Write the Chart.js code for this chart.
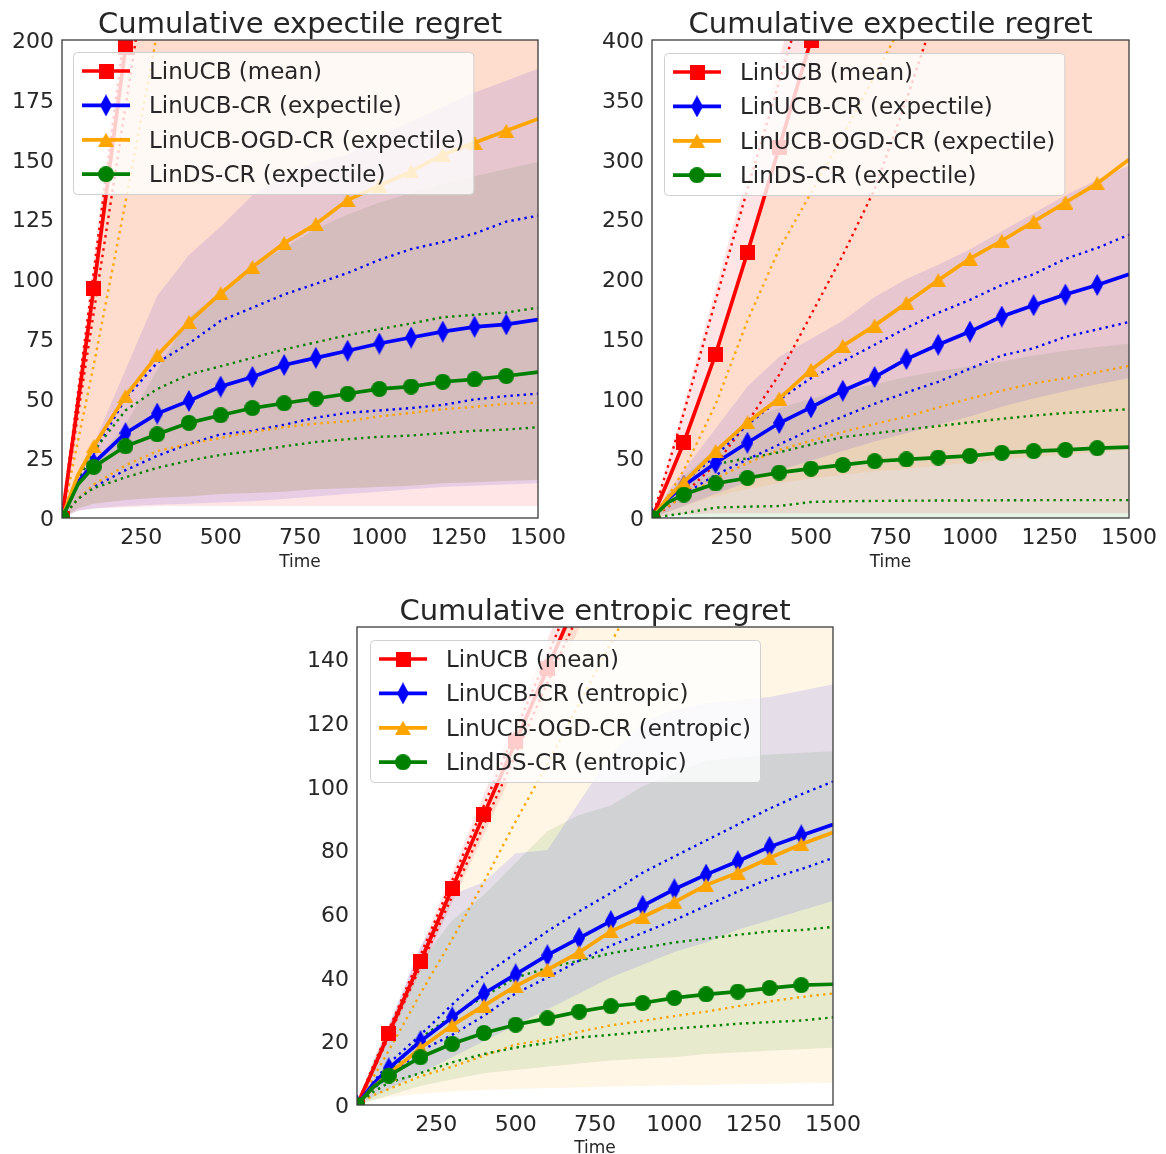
<!DOCTYPE html>
<html>
<head>
<meta charset="utf-8">
<script src="https://cdn.jsdelivr.net/npm/chart.js@4"></script>
<style>
  html, body { margin: 0; padding: 0; background: #fff; }
  body { width: 1166px; height: 1154px; position: relative; overflow: hidden; }
  canvas { position: absolute; }
</style>
</head>
<body>
<canvas id="c1" width="580" height="580" style="left:0;top:0"></canvas>
<canvas id="c2" width="586" height="580" style="left:580px;top:0"></canvas>
<canvas id="c3" width="580" height="574" style="left:290px;top:580px"></canvas>
<script>
const T = [0, 50, 100, 200, 300, 400, 500, 600, 700, 800, 900, 1000, 1100, 1200, 1300, 1400, 1500];
const xTicks = [250, 500, 750, 1000, 1250, 1500];

// ---- top left: expectile regret (0..200)
const y1Ticks = [0, 25, 50, 75, 100, 125, 150, 175, 200];
const e1RedMean = [0, 48, 96, 197, 295, 393, 490, 588, 685, 783, 880, 978, 1075, 1173, 1270, 1368, 1465];
const e1RedHi = [0, 52, 103, 206, 309, 412, 515, 618, 721, 824, 927, 1030, 1133, 1236, 1339, 1442, 1545];
const e1RedLo = [0, 43, 86, 172, 258, 344, 430, 516, 602, 688, 774, 860, 946, 1032, 1118, 1204, 1290];
const e1RedBandHi = [0, 55, 108, 216, 322, 430, 536, 643, 750, 856, 962, 1070, 1176, 1283, 1390, 1496, 1602];
const e1RedBandLo = [0, 3, 4, 4.5, 5, 5, 5, 5, 5, 5, 5, 5, 5, 5, 5, 5, 5];
const e1BlMean = [0, 15, 23, 35.5, 43.7, 49, 55, 59, 64, 67, 70, 73, 75.5, 78, 80, 81, 83];
const e1BlHi = [0, 16, 27, 50, 65, 73, 82.5, 88, 93.5, 98, 102.5, 108, 112.5, 115.5, 119, 124, 126.5];
const e1BlLo = [0, 8, 13, 20, 26, 31, 35, 36.5, 39, 42, 44, 45, 46, 47.3, 49.6, 51, 52];
const e1BlBandHi = [0, 18, 31, 62, 93, 110, 122, 135, 143, 149, 152, 160, 166, 172, 178, 183, 188];
const e1BlBandLo = [0, 3, 4, 5, 5.5, 6, 6.5, 7, 8, 9, 10, 11, 12, 13, 13.5, 14, 14.5];
const e1OrMean = [0, 18, 30, 51, 68, 82, 94, 105, 115, 123, 133, 139, 145, 152, 157, 162, 167];
const e1OrHi = [0, 32, 64, 132, 203, 272, 340, 405, 470, 535, 600, 665, 730, 795, 860, 925, 990];
const e1OrLo = [0, 8, 14, 22, 28, 31, 33.5, 36, 38, 39.5, 40.5, 42.5, 44, 45.5, 46.5, 47.8, 48.2];
const e1OrBandHi = [0, 47, 95, 195, 292, 390, 487, 585, 682, 780, 877, 975, 1072, 1170, 1267, 1365, 1462];
const e1OrBandLo = [0, 4, 6, 7.5, 8.5, 9, 10, 10.5, 11, 12, 12.5, 13, 13.5, 14.5, 15, 15.5, 16];
const e1GrMean = [0, 14, 21.4, 30, 35, 39.8, 43, 46, 48, 50, 52, 54, 55, 57, 58, 59.4, 61];
const e1GrHi = [0, 16, 28, 45, 54, 60, 63.5, 67, 70.5, 73.5, 76.5, 79, 81.4, 84, 85, 86, 88];
const e1GrLo = [0, 8, 12.5, 17, 21, 24, 26.4, 28, 30, 31.8, 33, 34, 34.5, 35.5, 36.5, 37, 38];
const e1GrBandHi = [0, 14, 23, 39, 62, 84, 95, 105, 113, 121, 127, 132, 136, 140, 143, 146, 149];
const e1GrBandLo = [0, 4, 6, 7.5, 8.5, 9, 10, 10.5, 11, 12, 12.5, 13, 13.5, 14.5, 15, 15.5, 16];

// ---- top right: expectile regret (0..400)
const y2Ticks = [0, 50, 100, 150, 200, 250, 300, 350, 400];
const e2RedMean = [0, 31, 63, 137, 222, 310, 400, 490, 580, 670, 760, 850, 940, 1030, 1120, 1210, 1300];
const e2RedHi = [0, 43, 88, 182, 275, 365, 455, 545, 635, 725, 815, 905, 995, 1085, 1175, 1265, 1355];
const e2RedLo = [0, 9, 20, 45, 80, 120, 170, 220, 275, 350, 430, 510, 590, 670, 750, 830, 910];
const e2RedBandHi = [0, 47, 95, 192, 288, 385, 480, 575, 670, 765, 860, 955, 1050, 1145, 1240, 1335, 1430];
const e2RedBandLo = [0, 2, 3, 4, 4, 4, 4, 4, 4, 4, 4, 4, 4, 4, 4, 4, 4];
const e2BlMean = [0, 16, 27, 46, 63, 79.5, 92.5, 106.5, 118, 133, 145, 156, 168.6, 178, 187, 195, 204];
const e2BlHi = [0, 17, 30, 52, 78, 99, 117, 131, 145, 159, 171.7, 182.6, 195, 204, 216.8, 226, 237];
const e2BlLo = [0, 11, 20, 36, 49, 61.5, 74, 84.8, 95.6, 105, 114, 125, 136, 142, 151.6, 157.8, 164];
const e2BlBandHi = [0, 22, 40, 75, 110, 135, 150, 165, 185, 200, 212, 225, 240, 255, 270, 283, 295];
const e2BlBandLo = [0, 5, 10, 20, 30, 40, 48, 56, 64, 71, 78, 85, 93, 100, 106, 112, 117];
const e2OrMean = [0, 17, 30, 56, 80, 100, 124, 144, 161, 180, 199, 217, 232, 248, 264, 280, 300];
const e2OrHi = [0, 18, 40, 95, 165, 225, 272, 320, 370, 420, 470, 520, 570, 620, 670, 720, 770];
const e2OrLo = [0, 10, 18, 33, 46, 57, 64.6, 72, 78.6, 84.8, 92.5, 100, 106.5, 112.7, 117, 122, 127.3];
const e2OrBandHi = [0, 32, 65, 140, 226, 315, 405, 495, 585, 675, 765, 855, 945, 1035, 1125, 1215, 1305];
const e2OrBandLo = [0, 5, 10, 18, 24, 29, 33, 36, 39, 41, 44, 46, 49, 51, 53, 55, 57];
const e2GrMean = [0, 13, 19.6, 28.9, 33.5, 38, 41.3, 44.4, 47.5, 49, 50.6, 52, 54.6, 56, 57, 58.4, 59.3];
const e2GrHi = [0, 16, 28, 45, 50, 55, 61.5, 67.7, 70.8, 74, 77, 80, 83, 85.7, 87.9, 89.4, 91];
const e2GrLo = [0, 2, 4, 8.7, 9.5, 10, 13.4, 14, 14.3, 14.5, 14.6, 14.7, 14.8, 14.9, 15, 15, 15];
const e2GrBandHi = [0, 20, 35, 58, 82, 92, 100, 106, 112, 118, 123, 127, 131, 136, 140, 143, 146];
const e2GrBandLo = [0, 0, 0, 0, 0, 0, 0, 0, 0, 0, 0, 0, 0, 0, 0, 0, 0];

// ---- bottom: entropic regret (0..150)
const y3Ticks = [0, 20, 40, 60, 80, 100, 120, 140];
const enRedMean = [0, 11, 22.4, 45, 68, 91.2, 114, 137, 160, 183, 206, 229, 252, 275, 298, 321, 344];
const enRedHi = [0, 12, 23.5, 47, 70.5, 94, 117.5, 141, 164.5, 188, 211.5, 235, 258.5, 282, 305.5, 329, 352.5];
const enRedLo = [0, 10.5, 21.5, 43.5, 65.5, 88, 110, 132.5, 154.5, 176.5, 199, 221, 243, 265.5, 287.5, 309.5, 332];
const enRedBandHi = [0, 12.5, 24.5, 49, 73, 97.5, 121.5, 146, 170, 194.5, 218.5, 243, 267, 291.5, 315.5, 340, 364];
const enRedBandLo = [0, 10, 20.5, 42, 63.5, 85, 106.5, 128, 149.5, 171, 192.5, 214, 235.5, 257, 278.5, 300, 321.5];
const enBlMean = [0, 6.5, 11.5, 20, 27.5, 35, 41, 47, 52.4, 57.7, 62.5, 67.7, 72.3, 76.5, 81, 84.6, 88];
const enBlHi = [0, 7, 13, 22, 31.5, 40.7, 47.6, 54.5, 60.8, 66.5, 72.9, 78, 83, 88, 93, 97.5, 101.5];
const enBlLo = [0, 5, 9, 17, 22, 28, 35, 40, 45.3, 50, 54, 58, 62.5, 67, 71, 74, 77.5];
const enBlBandHi = [0, 13, 25, 50, 66, 70, 79, 80, 95, 110, 120, 124, 126, 127, 128, 130, 132];
const enBlBandLo = [0, 2.5, 5, 10, 15, 20, 25, 30, 35, 40, 44, 48, 51, 55, 58, 61, 64];
const enOrMean = [0, 5.5, 9.75, 17.8, 25, 31.2, 37.3, 42.5, 47.9, 54.5, 59, 63.7, 69, 72.9, 77.5, 81.8, 85.5];
const enOrHi = [0, 8.5, 17, 35, 52, 70, 89, 107, 126, 145, 163, 182, 200, 219, 238, 256, 275];
const enOrLo = [0, 3, 5, 9, 12, 15.5, 19, 20.5, 23, 25, 26.4, 27.9, 29.3, 31, 32.5, 33.9, 35];
const enOrBandHi = [0, 11.5, 23, 46, 69, 92.5, 115.5, 138.5, 161.5, 185, 208, 231, 254, 277, 300, 323, 346];
const enOrBandLo = [0, 1.5, 2.5, 3.5, 4.2, 4.7, 5, 5.3, 5.5, 5.8, 6, 6.2, 6.3, 6.5, 6.7, 6.8, 7];
const enGrMean = [0, 5.5, 9.2, 15, 19.2, 22.6, 25.2, 27.2, 29.3, 31, 32, 33.6, 34.7, 35.6, 36.7, 37.6, 37.9];
const enGrHi = [0, 5.5, 10, 21, 28, 34, 40, 43, 45.3, 47.6, 49.3, 51, 52.2, 53.4, 54.5, 54.9, 55.9];
const enGrLo = [0, 4, 7, 10, 13.4, 16, 18, 19.5, 21.2, 22, 23, 24, 24.7, 25.5, 26, 26.5, 27.5];
const enGrBandHi = [0, 14, 25, 45, 58, 66, 76, 86, 91, 94, 100, 104, 108, 109, 110, 110.5, 111];
const enGrBandLo = [0, 1.5, 3, 6, 8, 10, 11, 12, 13, 14, 14.5, 15, 16, 16.5, 17, 17.5, 18];

const expectileLabels = ["LinUCB (mean)", "LinUCB-CR (expectile)", "LinUCB-OGD-CR (expectile)", "LinDS-CR (expectile)"];
const entropicLabels = ["LinUCB (mean)", "LinUCB-CR (entropic)", "LinUCB-OGD-CR (entropic)", "LindDS-CR (entropic)"];

const FONT = '"DejaVu Sans", sans-serif';
const TEXT = '#262626';
const RGB = { red: [255, 0, 0], blue: [0, 0, 255], orange: [255, 165, 0], green: [0, 128, 0] };

// marker images (matplotlib s, d, ^, o)
function marker(kind, rgb) {
  const size = { square: [15, 15], diamond: [12, 22], triangle: [16, 14], circle: [16, 16] }[kind];
  const c = document.createElement('canvas');
  c.width = size[0]; c.height = size[1];
  const g = c.getContext('2d');
  const w = size[0], h = size[1];
  g.fillStyle = `rgb(${rgb})`;
  g.beginPath();
  if (kind === 'square') g.rect(0, 0, w, h);
  else if (kind === 'diamond') { g.moveTo(w / 2, 0); g.lineTo(w, h / 2); g.lineTo(w / 2, h); g.lineTo(0, h / 2); g.closePath(); }
  else if (kind === 'triangle') { g.moveTo(w / 2, 0); g.lineTo(w, h); g.lineTo(0, h); g.closePath(); }
  else g.arc(w / 2, h / 2, w / 2, 0, Math.PI * 2);
  g.fill();
  return c;
}

const pts = arr => T.map((t, i) => ({ x: t, y: arr[i] }));
const showMark = ctx => (T[ctx.dataIndex] % 100 === 0 && T[ctx.dataIndex] < 1500) ? 7 : 0;

// legend box, frame and title drawn on top of the data like matplotlib
const decor = {
  id: 'decor',
  afterDatasetsDraw(chart, args, o) {
    const { ctx, chartArea: a } = chart;
    ctx.save();
    ctx.font = '23px ' + FONT;
    const tw = Math.max(...o.labels.map(l => ctx.measureText(l).width));
    const bx = a.left + o.dx, by = a.top + o.dy;
    const bw = 76 + tw + 9, bh = 142;
    ctx.beginPath();
    ctx.roundRect(bx + 0.5, by + 0.5, bw, bh, 4);
    ctx.fillStyle = 'rgba(255,255,255,0.8)';
    ctx.fill();
    ctx.strokeStyle = '#d0d0d0';
    ctx.lineWidth = 1;
    ctx.stroke();
    o.series.forEach((s, i) => {
      const cy = by + 19 + i * 34.4;
      ctx.strokeStyle = `rgb(${s.rgb})`;
      ctx.lineWidth = 3.7;
      ctx.beginPath();
      ctx.moveTo(bx + 9, cy); ctx.lineTo(bx + 57, cy);
      ctx.stroke();
      const m = s.img;
      ctx.drawImage(m, bx + 33 - m.width / 2, cy - m.height / 2);
      ctx.fillStyle = TEXT;
      ctx.textBaseline = 'middle';
      ctx.fillText(o.labels[i], bx + 76, cy + 2);
    });
    ctx.strokeStyle = '#3c3c3c';
    ctx.lineWidth = 1.3;
    ctx.strokeRect(a.left, a.top, a.right - a.left, a.bottom - a.top);
    ctx.restore();
  },
  afterDraw(chart, args, o) {
    const { ctx, chartArea: a } = chart;
    ctx.save();
    ctx.font = '29px ' + FONT;
    ctx.fillStyle = TEXT;
    ctx.textAlign = 'center';
    ctx.textBaseline = 'alphabetic';
    ctx.fillText(o.title, (a.left + a.right) / 2, a.top - 7);
    ctx.restore();
  }
};

function build(id, c) {
  const series = [
    { rgb: RGB.red, img: marker('square', RGB.red), d: c.red },
    { rgb: RGB.blue, img: marker('diamond', RGB.blue), d: c.blue },
    { rgb: RGB.orange, img: marker('triangle', RGB.orange), d: c.orange },
    { rgb: RGB.green, img: marker('circle', RGB.green), d: c.green }
  ];
  const datasets = [];
  series.forEach((s, k) => {
    const [mean, hi, lo, bHi, bLo] = s.d;
    datasets.push({ data: pts(bLo), borderWidth: 0, pointRadius: 0, fill: false, order: 40 + k, clip: 0 });
    datasets.push({ data: pts(bHi), borderWidth: 0, pointRadius: 0, fill: '-1',
      backgroundColor: `rgba(${s.rgb},0.1)`, order: 40 + k, clip: 0 });
    [hi, lo].forEach(arr => datasets.push({
      data: pts(arr), borderColor: `rgb(${s.rgb})`, borderWidth: 2.4, borderDash: [2.4, 4.2],
      pointRadius: 0, fill: false, order: 30 - k, clip: 0
    }));
    datasets.push({
      data: pts(mean), borderColor: `rgb(${s.rgb})`, borderWidth: 3.7, fill: false,
      pointStyle: s.img, pointRadius: showMark, order: 20 - k, clip: 0
    });
  });

  new Chart(document.getElementById(id), {
    type: 'line',
    data: { datasets },
    options: {
      responsive: false,
      animation: false,
      events: [],
      layout: { padding: { top: c.top, right: c.right, left: 0, bottom: 0 } },
      elements: { line: { tension: 0 } },
      plugins: {
        legend: { display: false },
        tooltip: { enabled: false },
        decor: { labels: c.labels, series, dx: c.dx, dy: c.dy, title: c.title }
      },
      scales: {
        x: {
          type: 'linear', min: 0, max: 1500,
          afterBuildTicks: s => { s.ticks = xTicks.map(v => ({ value: v })); },
          afterFit: s => { s.height = c.xh; s.paddingLeft = 0; s.paddingRight = 0; },
          grid: { display: false, drawTicks: false },
          border: { display: false },
          ticks: { font: { family: FONT, size: 22 }, color: TEXT, padding: 7, autoSkip: false, maxRotation: 0,
            callback: v => String(v) },
          title: { display: true, text: 'Time', color: TEXT, font: { family: FONT, size: 17, lineHeight: 0.65 },
            padding: { top: 0, bottom: c.tpad } }
        },
        y: {
          type: 'linear', min: 0, max: c.ymax,
          afterBuildTicks: s => { s.ticks = c.yTicks.map(v => ({ value: v })); },
          afterFit: s => { s.width = c.yw; s.paddingTop = 0; s.paddingBottom = 0; },
          grid: { display: false, drawTicks: false },
          border: { display: false },
          ticks: { font: { family: FONT, size: 22 }, color: TEXT, padding: 8, labelOffset: 2.5,
            callback: v => String(v) }
        }
      }
    },
    plugins: [decor]
  });
}

build('c1', {
  title: 'Cumulative expectile regret', labels: expectileLabels,
  ymax: 200, yTicks: y1Ticks, yw: 62, xh: 62, top: 40, right: 42, tpad: 11.5, dx: 11, dy: 12,
  red: [e1RedMean, e1RedHi, e1RedLo, e1RedBandHi, e1RedBandLo],
  blue: [e1BlMean, e1BlHi, e1BlLo, e1BlBandHi, e1BlBandLo],
  orange: [e1OrMean, e1OrHi, e1OrLo, e1OrBandHi, e1OrBandLo],
  green: [e1GrMean, e1GrHi, e1GrLo, e1GrBandHi, e1GrBandLo]
});

build('c2', {
  title: 'Cumulative expectile regret', labels: expectileLabels,
  ymax: 400, yTicks: y2Ticks, yw: 72, xh: 62, top: 40, right: 37, tpad: 11.5, dx: 12, dy: 13,
  red: [e2RedMean, e2RedHi, e2RedLo, e2RedBandHi, e2RedBandLo],
  blue: [e2BlMean, e2BlHi, e2BlLo, e2BlBandHi, e2BlBandLo],
  orange: [e2OrMean, e2OrHi, e2OrLo, e2OrBandHi, e2OrBandLo],
  green: [e2GrMean, e2GrHi, e2GrLo, e2GrBandHi, e2GrBandLo]
});

build('c3', {
  title: 'Cumulative entropic regret', labels: entropicLabels,
  ymax: 150, yTicks: y3Ticks, yw: 67, xh: 49, top: 47, right: 37, tpad: 0, dx: 13, dy: 13,
  red: [enRedMean, enRedHi, enRedLo, enRedBandHi, enRedBandLo],
  blue: [enBlMean, enBlHi, enBlLo, enBlBandHi, enBlBandLo],
  orange: [enOrMean, enOrHi, enOrLo, enOrBandHi, enOrBandLo],
  green: [enGrMean, enGrHi, enGrLo, enGrBandHi, enGrBandLo]
});
</script>
</body>
</html>
